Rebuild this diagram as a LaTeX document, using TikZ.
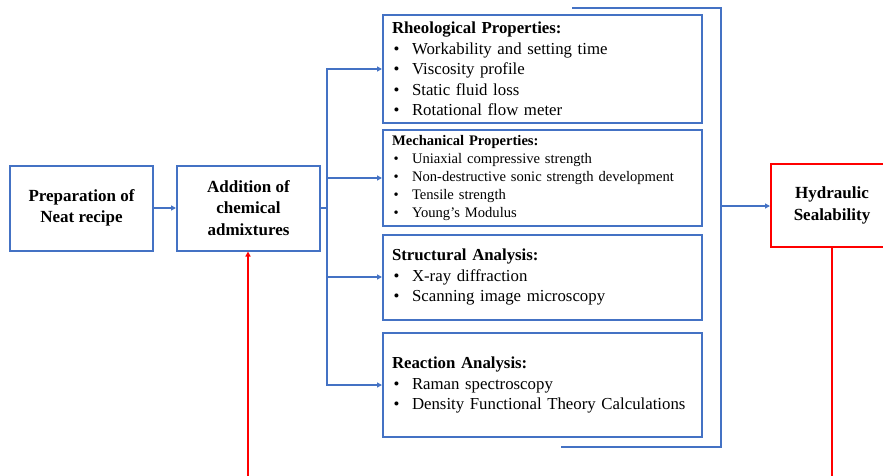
\documentclass[tikz,border=0pt]{standalone}
\usepackage{fontspec}
\setmainfont{Liberation Serif}
\usetikzlibrary{arrows.meta}
\definecolor{bl}{RGB}{68,114,196}
\definecolor{rd}{RGB}{255,0,0}
\newcommand{\itm}[1]{\\\hspace*{1.5pt}\makebox[18.5pt][l]{\textbullet}#1}
\begin{document}
\begin{tikzpicture}[x=1pt,y=-1pt,
  box/.style={draw=bl,line width=2pt,inner sep=0pt,align=center,font=\fontsize{17}{21.5}\selectfont\bfseries},
  listbox/.style={draw=bl,line width=2pt,inner xsep=9pt,inner ysep=0pt,align=left,text width=301pt},
  redbox/.style={draw=rd,line width=2pt,inner sep=0pt,align=center,font=\fontsize{17}{22}\selectfont\bfseries},
  conn/.style={draw=bl,line width=2pt},
  arr/.style={conn,-{Triangle[length=5pt,width=5pt]}},
  redarr/.style={draw=rd,line width=2pt,-{Triangle[length=5pt,width=5pt]}},
  redline/.style={draw=rd,line width=2pt}]
\clip (0,0) rectangle (883,476);
\useasboundingbox (0,0) rectangle (883,476);

\node[box,minimum width=143pt,minimum height=85pt] (prep) at (81.5,208) {Preparation of\\Neat recipe};
\node[box,minimum width=143pt,minimum height=85pt] (add) at (248.5,208) {Addition of\\chemical\\admixtures};

\node[listbox,minimum height=108pt,font=\fontsize{16.8}{20.6}\selectfont] (rheo) at (542.5,69) {\textbf{Rheological Properties:}\itm{Workability and setting time}\itm{Viscosity profile}\itm{Static fluid loss}\itm{Rotational flow meter}};
\node[listbox,minimum height=96pt,font=\fontsize{14.6}{18}\selectfont] (mech) at (542.5,178) {\textbf{Mechanical Properties:}\itm{Uniaxial compressive strength}\itm{Non-destructive sonic strength development}\itm{Tensile strength}\itm{Young’s Modulus}};
\node[listbox,minimum height=85pt,font=\fontsize{16.8}{20.3}\selectfont] (struct) at (542.5,277) {\textbf{Structural Analysis:}\itm{X-ray diffraction}\itm{Scanning image microscopy}};
\node[listbox,minimum height=104pt,font=\fontsize{16.8}{20.5}\selectfont] (react) at (542.5,385) {\textbf{Reaction Analysis:}\itm{Raman spectroscopy}\itm{Density Functional Theory Calculations}};

\node[redbox,minimum width=122pt,minimum height=83pt] (hyd) at (832,205.5) {Hydraulic\\Sealability};

% connectors
\draw[arr] (prep.east) -- (add.west);
\coordinate (bus) at (327,208);
\draw[conn] (add.east) -- (bus);
\draw[arr] (bus) |- (rheo.west);
\draw[arr] (bus) |- (mech.west);
\draw[arr] (bus) |- (struct.west);
\draw[arr] (bus) |- (react.west);

\coordinate (bt) at (572,8);
\coordinate (btr) at (721,8);
\coordinate (bbr) at (721,447);
\coordinate (bb) at (561,447);
\draw[conn] (bt) -- (btr) -- (bbr) -- (bb);
\coordinate (brk) at (721,206);
\draw[arr] (brk) -- (hyd.west |- brk);

\coordinate (rs) at (248,480);
\draw[redarr] (rs) -- (add.south -| rs);
\coordinate (re) at (832,480);
\draw[redline] (hyd.south) -- (re);
\end{tikzpicture}
\end{document}
